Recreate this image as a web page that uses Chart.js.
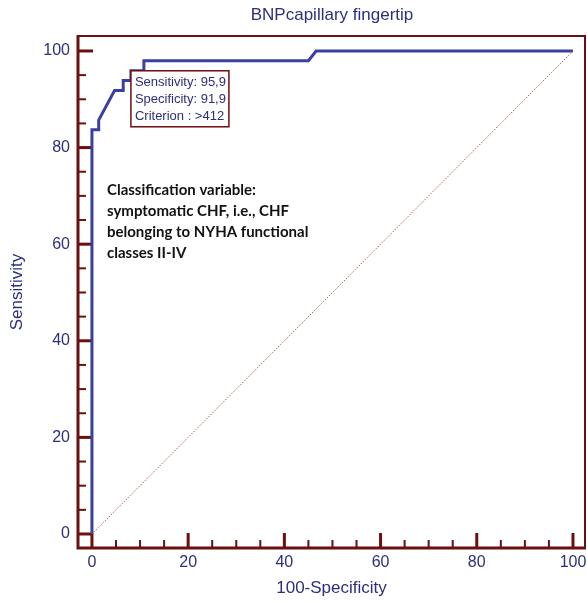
<!DOCTYPE html>
<html>
<head>
<meta charset="utf-8">
<script src="https://cdn.jsdelivr.net/npm/chart.js@4/dist/chart.umd.min.js"></script>
<style>
  html, body { margin: 0; padding: 0; background: #fff; }
  #wrap { width: 587px; height: 602px; }
</style>
</head>
<body>
<div id="wrap"><canvas id="c"></canvas></div>
<script>
// ROC curve (100-Specificity, Sensitivity)
const rocX = [0, 0, 1.4, 1.4, 4.7, 6.5, 6.5, 8.1, 8.1, 10.8, 10.8, 45.0, 46.6, 100];
const rocY = [0, 83.7, 83.7, 85.7, 91.8, 91.8, 93.9, 93.9, 95.9, 95.9, 98.0, 98.0, 100, 100];
const diagX = [0, 100];
const diagY = [0, 100];

const tickValues = [0, 5, 10, 15, 20, 25, 30, 35, 40, 45, 50, 55, 60, 65, 70, 75, 80, 85, 90, 95, 100];
const tickLabels = [0, 20, 40, 60, 80, 100];

const criterion = { x: 8.1, y: 95.9 };
const criterionLines = ['Sensitivity: 95,9', 'Specificity: 91,9', 'Criterion : >412'];
const noteLines = [
  'Classification variable:',
  'symptomatic CHF, i.e., CHF',
  'belonging to NYHA functional',
  'classes II-IV'
];

const NAVY = '#2c2e7e';
const AXIS = '#6c0f10';
const LINE = '#3a3fa0';

// frame, inward tick marks, title and the text boxes
const decorPlugin = {
  id: 'decorPlugin',
  beforeDatasetsDraw(chart) {
    const { ctx, chartArea: a, scales } = chart;
    ctx.save();
    ctx.strokeStyle = AXIS;
    scales.x.ticks.forEach(t => {
      const px = scales.x.getPixelForValue(t.value);
      const major = tickLabels.includes(t.value);
      ctx.lineWidth = major ? 3 : 2;
      ctx.beginPath();
      ctx.moveTo(px, a.bottom);
      ctx.lineTo(px, a.bottom - (major ? 15 : 8));
      ctx.stroke();
    });
    scales.y.ticks.forEach(t => {
      const py = scales.y.getPixelForValue(t.value);
      const major = tickLabels.includes(t.value);
      ctx.lineWidth = major ? 3 : 2;
      ctx.beginPath();
      ctx.moveTo(a.left, py);
      ctx.lineTo(a.left + (major ? 15 : 8), py);
      ctx.stroke();
    });
    ctx.restore();
  },
  afterDatasetsDraw(chart) {
    const { ctx, chartArea: a, scales } = chart;
    ctx.save();
    // frame
    ctx.strokeStyle = AXIS;
    ctx.lineWidth = 2;
    ctx.beginPath();
    ctx.moveTo(a.left, a.top);
    ctx.lineTo(a.right, a.top);
    ctx.lineTo(a.right, a.bottom);
    ctx.stroke();
    ctx.lineWidth = 3;
    ctx.beginPath();
    ctx.moveTo(a.left, a.top - 1);
    ctx.lineTo(a.left, a.bottom);
    ctx.lineTo(a.right + 1, a.bottom);
    ctx.stroke();

    // criterion box
    const bx = scales.x.getPixelForValue(criterion.x);
    const by = scales.y.getPixelForValue(criterion.y);
    ctx.fillStyle = '#fff';
    ctx.fillRect(bx, by, 98, 56);
    ctx.lineWidth = 1.5;
    ctx.strokeRect(bx, by, 98, 56);
    ctx.fillStyle = NAVY;
    ctx.font = '13px "Liberation Sans", Arial, sans-serif';
    ctx.textBaseline = 'middle';
    ctx.textAlign = 'left';
    criterionLines.forEach((s, i) => ctx.fillText(s, bx + 4, by + 12 + i * 17));

    // note
    ctx.fillStyle = '#111';
    ctx.font = 'bold 15px Lato, "Open Sans", sans-serif';
    noteLines.forEach((s, i) => ctx.fillText(s, a.left + 29, 190 + i * 21));

    // title
    ctx.fillStyle = NAVY;
    ctx.font = '17px "Liberation Sans", Arial, sans-serif';
    ctx.textAlign = 'center';
    ctx.fillText('BNPcapillary fingertip', 332, 15);
    ctx.restore();
  }
};

const tickOpts = {
  autoSkip: false,
  maxRotation: 0,
  color: NAVY,
  font: { family: '"Liberation Sans", Arial, sans-serif', size: 16 },
  callback: v => (tickLabels.includes(v) ? String(v) : '')
};

new Chart(document.getElementById('c'), {
  type: 'line',
  data: {
    datasets: [
      {
        data: diagX.map((x, i) => ({ x, y: diagY[i] })),
        borderColor: '#c0504d',
        borderWidth: 1,
        borderDash: [1.5, 1.5],
        pointRadius: 0
      },
      {
        data: rocX.map((x, i) => ({ x, y: rocY[i] })),
        borderColor: LINE,
        borderWidth: 3,
        pointRadius: 0,
        tension: 0,
        borderJoinStyle: 'miter'
      }
    ]
  },
  options: {
    responsive: true,
    maintainAspectRatio: false,
    animation: false,
    layout: { padding: { top: 36, right: 2, left: 0, bottom: 0 } },
    plugins: { legend: { display: false }, tooltip: { enabled: false }, title: { display: false } },
    scales: {
      x: {
        type: 'linear',
        min: -2.9,
        max: 102.5,
        afterBuildTicks: s => { s.ticks = tickValues.map(v => ({ value: v })); },
        afterFit: s => { s.height = 54; s.paddingLeft = 0; s.paddingRight = 0; },
        grid: { display: false, drawTicks: false },
        border: { display: false },
        ticks: { ...tickOpts, padding: 5 },
        title: {
          display: true,
          text: '100-Specificity',
          color: NAVY,
          font: { family: '"Liberation Sans", Arial, sans-serif', size: 17 },
          padding: { top: 0, bottom: 3 }
        }
      },
      y: {
        type: 'linear',
        min: -2.9,
        max: 103.1,
        afterBuildTicks: s => { s.ticks = tickValues.map(v => ({ value: v })); },
        afterFit: s => { s.width = 78; s.paddingTop = 0; s.paddingBottom = 0; },
        grid: { display: false, drawTicks: false },
        border: { display: false },
        ticks: { ...tickOpts, padding: 8 },
        title: {
          display: true,
          text: 'Sensitivity',
          color: NAVY,
          font: { family: '"Liberation Sans", Arial, sans-serif', size: 17 },
          padding: { top: 7, bottom: 0 }
        }
      }
    }
  },
  plugins: [decorPlugin]
});
</script>
</body>
</html>
